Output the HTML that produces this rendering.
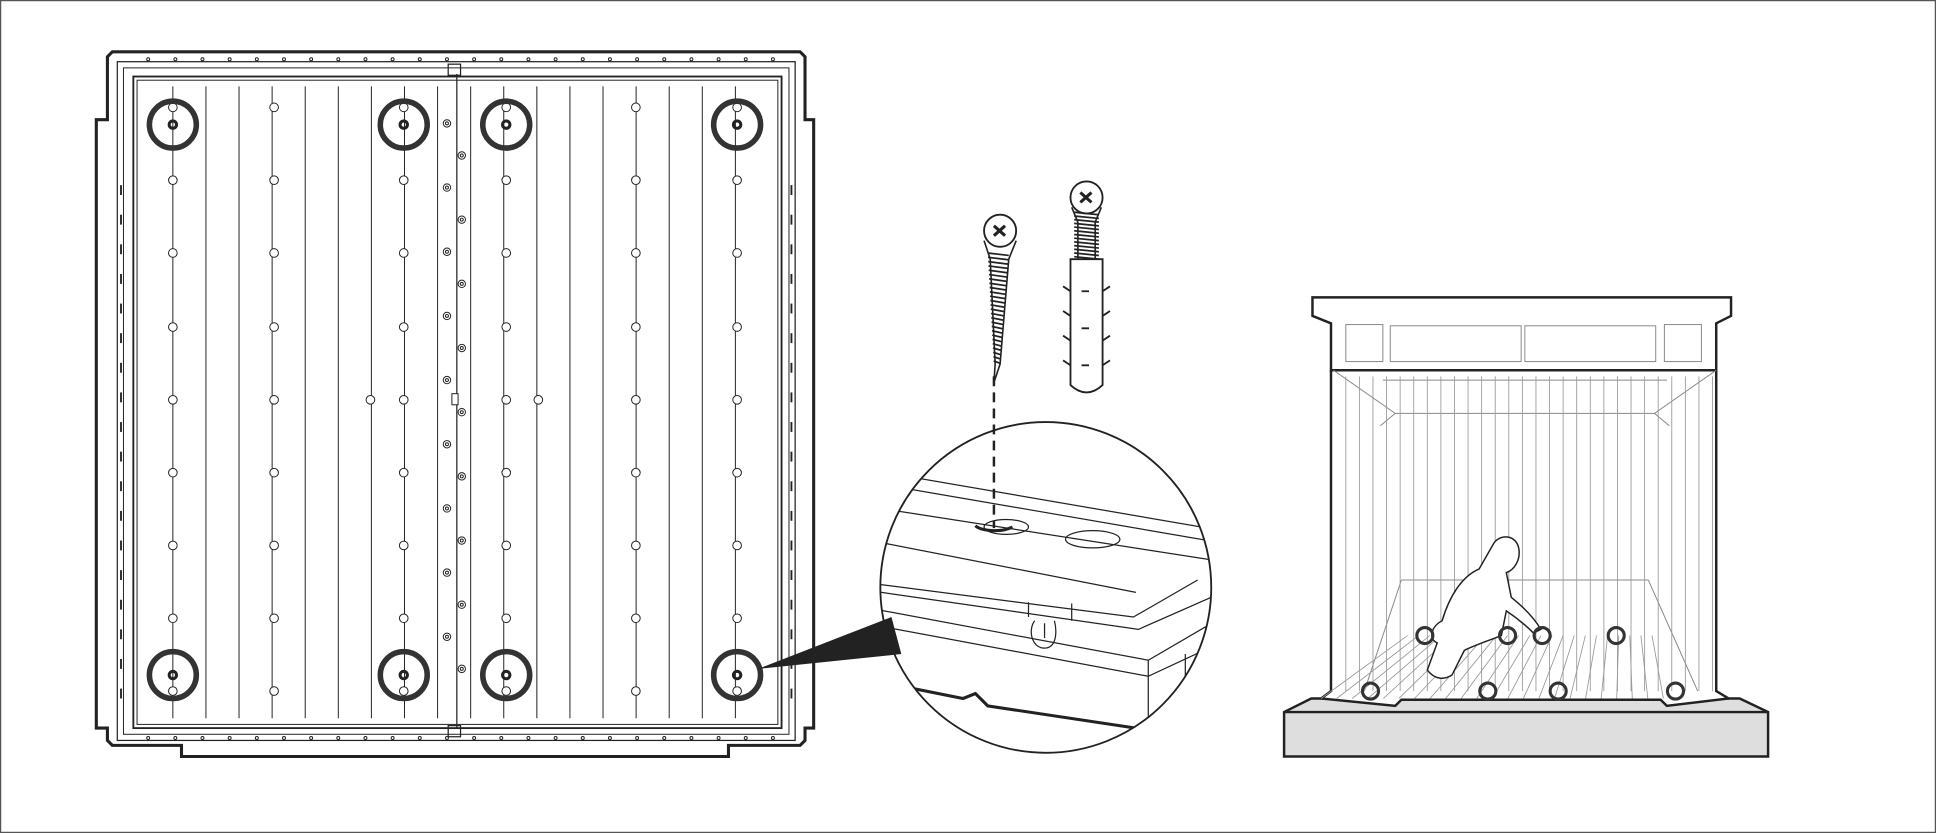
<!DOCTYPE html>
<html><head><meta charset="utf-8"><style>
html,body{margin:0;padding:0;background:#fff;width:1936px;height:833px;overflow:hidden}
svg{display:block}
</style></head><body>
<svg id="s" width="1936" height="833" viewBox="0 0 1568 675" preserveAspectRatio="none" xmlns="http://www.w3.org/2000/svg" fill="none" stroke="#222">
<rect x="0.5" y="0.5" width="1567" height="674" stroke="#555" stroke-width="1"/>
<path d="M91,42 H648 L652,46 V97 H659 V590 H652 V600 L648,604 H590 V613 H147 V604 H91 L87,600 V590 H78 V97 H87 V46 Z" stroke-width="2.5"/>
<rect x="95" y="50" width="549" height="550" stroke-width="1"/>
<rect x="100" y="55" width="539" height="540" stroke-width="0.8"/>
<rect x="108" y="62" width="525" height="528" stroke-width="1.5"/>
<rect x="111" y="65" width="519" height="522" stroke-width="0.8"/>
<rect x="363" y="52" width="10" height="9" stroke-width="1"/>
<rect x="363" y="588" width="10" height="9" stroke-width="1"/>
<line x1="370" y1="60" x2="370" y2="590" stroke-width="1"/>
<g id="g" stroke-width="0.8"></g>
<path d="M614,542 L722,500 L730,530 Z" fill="#222" stroke="none"/>
<clipPath id="c"><circle cx="847" cy="476" r="134"/></clipPath>
<g clip-path="url(#c)" stroke-width="1">
<line x1="700" y1="380" x2="990" y2="430"/>
<line x1="700" y1="390" x2="990" y2="440"/>
<line x1="700" y1="410" x2="990" y2="455"/>
<line x1="700" y1="437" x2="920" y2="480"/>
<path d="M700,472 L918,500 L970,470"/>
<path d="M700,478 L922,510 L990,480"/>
<path d="M700,492 L930,535 L990,500"/>
<path d="M700,505 L930,548 L990,520"/>
<line x1="930" y1="535" x2="930" y2="590"/>
<line x1="960" y1="530" x2="960" y2="590"/>
<path d="M833,500 v-12 M868,503 v-14"/>
<path d="M838,503 c-6,8 -2,24 10,22 c8,-2 8,-14 6,-22 M846,505 v12" stroke-width="1"/>
<ellipse cx="885" cy="437" rx="22" ry="7"/>
<ellipse cx="815" cy="427" rx="18" ry="6"/>
<path d="M790,426 c4,4 20,6 30,1" stroke-width="2.5"/>
<path d="M700,550 L780,566 L790,562 L800,572 L920,590" stroke-width="2.5"/>
</g>
<circle cx="847" cy="476" r="134" stroke-width="1.5"/>
<line x1="805" y1="305" x2="805" y2="428" stroke-width="2" stroke-dasharray="8,5"/>
<circle cx="810" cy="187" r="13" stroke-width="1.5"/>
<path d="M805,183 l9,8 M814,183 l-9,8" stroke-width="2.5"/>
<path d="M797,195 L802,210 L806,295 L805,310 L810,295 L817,210 L823,195" stroke-width="1.3"/>
<g id="t1" stroke-width="1.4"></g>
<circle cx="880" cy="160" r="13" stroke-width="1.5"/>
<path d="M875,156 l9,8 M884,156 l-9,8" stroke-width="2.5"/>
<path d="M868,168 L873,180 L873,210 M892,168 L887,180 L887,210" stroke-width="1.3"/>
<g id="t2" stroke-width="1.4"></g>
<path d="M867,210 H893 V312 Q880,324 867,312 Z" stroke-width="1.5" fill="#fff"/>
<path d="M861,232 l6,4 M861,252 l6,4 M861,272 l6,4 M861,292 l6,4 M899,232 l-6,4 M899,252 l-6,4 M899,272 l-6,4 M899,292 l-6,4 M876,236 h6 M876,266 h6 M876,296 h6" stroke-width="1.5"/>
<path d="M1040,577 L1062,566 H1409 L1432,577 V613 H1040 Z" fill="#dedede" stroke-width="2"/>
<line x1="1040" y1="577" x2="1432" y2="577" stroke-width="2"/>
<path d="M1078,300 V560 L1070,566 L1130,572 L1135,567 H1345 L1350,572 L1400,566 L1390,560 V300" stroke-width="2" fill="#fff"/>
<path d="M1063,241 H1402 V256 L1390,262 V300 H1078 V262 L1063,256 Z" stroke-width="2" fill="#fff"/>
<g stroke="#888" stroke-width="0.8">
<rect x="1090" y="263" width="30" height="30"/><rect x="1348" y="263" width="30" height="30"/>
<rect x="1126" y="264" width="106" height="29"/><rect x="1235" y="264" width="106" height="29"/>
<path d="M1080,300 L1130,335 H1340 L1390,300"/>
<path d="M1120,308 H1350 M1130,335 L1118,345 M1340,335 L1352,345"/>
<path d="M1135,470 L1105,560 M1335,470 L1375,560 M1135,470 H1335"/>
</g>
<g id="sh" stroke="#999" stroke-width="0.7"></g>
<path d="M1210,440 c6,-8 18,-6 20,4 c2,10 -4,18 -10,20 l4,20 c10,8 18,16 24,26 l-6,3 c-8,-8 -16,-14 -22,-18 l-4,20 c-10,4 -22,8 -30,12 l-10,20 c-6,4 -14,4 -20,-4 l8,-22 c-8,-4 -4,-14 4,-18 c6,-20 16,-36 30,-42 z" fill="#fff" stroke-width="1.2"/>
<g stroke-width="2.5" id="rc"></g>
</svg>
<script>
var NS="http://www.w3.org/2000/svg";
function el(p,t,a){var e=document.createElementNS(NS,t);for(var k in a)e.setAttribute(k,a[k]);document.getElementById(p).appendChild(e);return e;}
for(var x=140;x<=600;x+=26.8){if(Math.abs(x-370)>5)el("g","line",{x1:x,y1:70,x2:x,y2:582});}
var cols=[140,222,327,410,515,597];
cols.forEach(function(x){[87,146,205,265,324,383,442,501,560].forEach(function(y){el("g","circle",{cx:x,cy:y,r:3.5,fill:"#fff"});});});
el("g","circle",{cx:300,cy:324,r:3.5,fill:"#fff"});el("g","circle",{cx:436,cy:324,r:3.5,fill:"#fff"});
for(var i=0;i<18;i++){var x=i%2?374:362,y=100+i*26;el("g","circle",{cx:x,cy:y,r:3});el("g","circle",{cx:x,cy:y,r:1.2});}
el("g","rect",{x:366,y:319,width:5,height:9,fill:"#fff"});
[140,327,410,597].forEach(function(x){[101,547].forEach(function(y){el("g","circle",{cx:x,cy:y,r:19,"stroke-width":4.5,stroke:"#333",fill:"none"});el("g","circle",{cx:x,cy:y,r:3,"stroke-width":2.5});});});
for(var x=120;x<630;x+=22){el("g","circle",{cx:x,cy:48,r:1.2});el("g","circle",{cx:x,cy:598,r:1.2});}
for(var y=150;y<560;y+=24){el("g","line",{x1:98,y1:y,x2:98,y2:y+8,"stroke-width":1.5});el("g","line",{x1:641,y1:y,x2:641,y2:y+8,"stroke-width":1.5});}
for(var y=205;y<296;y+=3.5){var w=(y-205)/91;el("t1","line",{x1:800+w*5,y1:y,x2:817-w*7,y2:y+2});}
for(var y=172;y<210;y+=3){el("t2","line",{x1:870,y1:y,x2:890,y2:y+2});}
for(var x=1090;x<1390;x+=11){el("sh","line",{x1:x,y1:305,x2:x,y2:560});}
for(var x=1140;x<1340;x+=9){el("sh","line",{x1:x,y1:515,x2:x-30+(x-1240)*0.4,y2:566});}
[[1154,515],[1221,515],[1249,515],[1309,515],[1110,560],[1205,560],[1262,560],[1357,560]].forEach(function(p){el("rc","circle",{cx:p[0],cy:p[1],r:6.5,stroke:"#333"});});
</script>
</body></html>
